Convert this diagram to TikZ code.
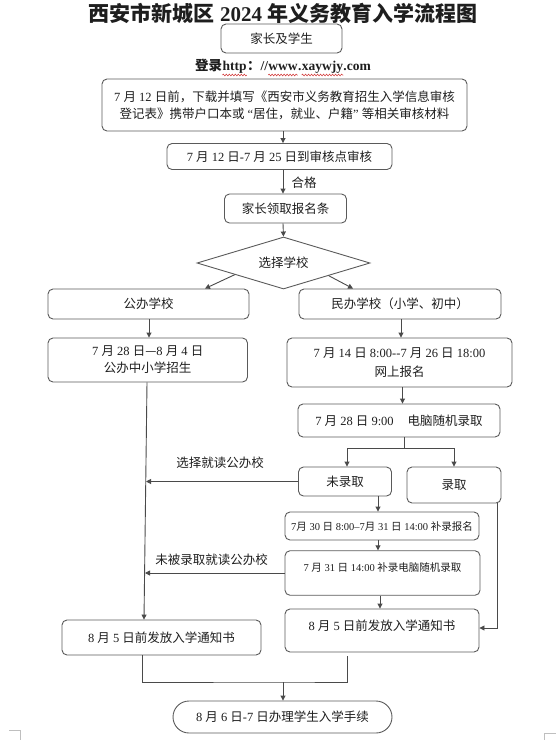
\documentclass[tikz,border=0pt]{standalone}
\usepackage{fontspec}
\setmainfont{Liberation Serif}
\newfontfamily\cjk{Noto Sans CJK SC}
\usetikzlibrary{shapes.geometric,arrows.meta,calc,decorations.pathmorphing}
\definecolor{boxc}{HTML}{5A5A5A}
\definecolor{linec}{HTML}{4A4A4A}
\definecolor{txt}{HTML}{1E1E1E}
\definecolor{wavec}{HTML}{D03030}
\newcommand\en[1]{{\rmfamily #1}}
\tikzset{
  box/.style={draw=boxc, line width=0.9pt, rounded corners=5pt, inner sep=0pt, align=center, text=txt, font=\cjk\fontsize{12.5}{17}\selectfont},
  smallbox/.style={box, font=\cjk\fontsize{10.5}{14}\selectfont},
  conn/.style={draw=linec, line width=0.9pt},
  arr/.style={conn, -{Triangle[length=5pt,width=5pt]}},
  lbl/.style={text=txt, inner sep=0pt, font=\cjk\fontsize{12.5}{15}\selectfont},
  loginpart/.style={text=txt, inner sep=0pt, anchor=base west, font=\cjk\bfseries\fontsize{13.5}{16}\selectfont},
  wavy/.style={draw=wavec, line width=0.5pt, decorate, decoration={snake, amplitude=0.9pt, segment length=3pt}},
  cornermark/.style={draw=black!25, line width=0.6pt},
}
\begin{document}
\begin{tikzpicture}[x=1pt,y=-1pt]
\useasboundingbox (0,0) rectangle (556,740);
% title and header
\node[text=txt, inner sep=0pt, font=\cjk\bfseries\fontsize{21}{24}\selectfont] (title) at (283,13) {西安市新城区\en{ 2024 }年义务教育入学流程图};
\node[box, minimum width=121pt, minimum height=29pt] (n1) at (281.5,38.5) {家长及学生};
% login line
\node[loginpart] (lg1) at (195,70) {登录\hspace{5pt}};
\node[loginpart] (lg2) at (lg1.base east) {\en{http}};
\node[loginpart] (lg3) at (lg2.base east) {：\en{//}};
\node[loginpart] (lg4) at (lg3.base east) {\en{www}};
\node[loginpart] (lg5) at (lg4.base east) {\en{.}};
\node[loginpart] (lg6) at (lg5.base east) {\en{xaywjy}};
\node[loginpart] (lg7) at (lg6.base east) {\en{.com}};
\foreach \w in {lg2,lg4,lg6}
  \draw[wavy] ($(\w.base west)+(0,5)$) -- ($(\w.base east)+(0,5)$);
\node[box, minimum width=365pt, minimum height=52pt] (n2) at (284.5,105) {\en{7 }月\en{ 12 }日前，下载并填写《西安市义务教育招生入学信息审核\\登记表》携带户口本或\en{ “}居住，就业、户籍\en{” }等相关审核材料};
\node[box, minimum width=225pt, minimum height=26pt] (n3) at (279.5,156.5) {\en{7 }月\en{ 12 }日\en{-7 }月\en{ 25 }日到审核点审核};
\node[lbl] (ok) at (304,183) {合格};
\node[box, minimum width=122pt, minimum height=29pt] (n4) at (285.5,208.5) {家长领取报名条};
\node[diamond, draw=boxc, line width=0.9pt, inner sep=0pt, aspect=3.3, minimum width=173pt, minimum height=52pt, text=txt, font=\cjk\fontsize{12.5}{15}\selectfont] (d) at (283.5,263) {选择学校};
% two branches
\node[box, minimum width=201pt, minimum height=30pt] (pub) at (148.5,304) {公办学校};
\node[box, minimum width=202pt, minimum height=30pt] (pri) at (400,304) {民办学校（小学、初中）};
\node[box, minimum width=199.5pt, minimum height=44pt] (pubd) at (147.75,360) {\en{7 }月\en{ 28 }日—\en{8 }月\en{ 4 }日\\公办中小学招生};
\node[box, minimum width=225pt, minimum height=49pt, font=\cjk\fontsize{12.5}{19.5}\selectfont] (prid) at (399.5,362.5) {\en{7 }月\en{ 14 }日\en{ 8:00-{}-7 }月\en{ 26 }日\en{ 18:00}\\网上报名};
\node[box, minimum width=202pt, minimum height=33pt] (rand) at (399,420.5) {\en{7 }月\en{ 28 }日\en{ 9:00}\hspace{14pt}电脑随机录取};
\node[box, minimum width=93pt, minimum height=29pt] (nadm) at (345,481.5) {未录取};
\node[box, minimum width=94pt, minimum height=36pt] (adm) at (454,485) {录取};
\node[smallbox, minimum width=194pt, minimum height=28pt] (supp) at (382,526) {\en{7}月\en{ 30 }日\en{ 8:00–7}月\en{ 31 }日\en{ 14:00 }补录报名};
\node[smallbox, minimum width=195pt, minimum height=44.5pt] (supr) at (382.5,573) {\en{7 }月\en{ 31 }日\en{ 14:00 }补录电脑随机录取\\[-2pt]\mbox{}};
\node[box, minimum width=194pt, minimum height=43pt] (notR) at (382,630.5) {\en{8 }月\en{ 5 }日前发放入学通知书\\[-6pt]\mbox{}};
\node[box, minimum width=199pt, minimum height=35pt] (notL) at (161.5,637.5) {\en{8 }月\en{ 5 }日前发放入学通知书};
\node[box, rounded corners=16pt, minimum width=219pt, minimum height=32pt] (final) at (282.5,717) {\en{8 }月\en{ 6 }日\en{-7 }日办理学生入学手续};
% side labels
\node[lbl] (l1) at (220,463) {选择就读公办校};
\node[lbl] (l2) at (211.5,560) {未被录取就读公办校};
% connectors
\draw[arr] (283,0 |- n2.south) -- (283,0 |- n3.north);
\draw[arr] (283,0 |- n3.south) -- (283,0 |- n4.north);
\draw[arr] (283,0 |- n4.south) -- (d.north);
\draw[arr] ($(d.west)!0.44!(d.south)$) -- (205,0 |- pub.north);
\draw[arr] ($(d.south)!0.52!(d.east)$) -- (353,0 |- pri.north);
\draw[arr] (149,0 |- pub.south) -- (149,0 |- pubd.north);
\draw[arr] (401,0 |- pri.south) -- (401,0 |- prid.north);
\draw[arr] (402.5,0 |- prid.south) -- (402.5,0 |- rand.north);
\draw[conn] (404,0 |- rand.south) -- (404,448) coordinate (split);
\draw[arr] (split) -| (347,0 |- nadm.north);
\draw[arr] (split) -| (454,0 |- adm.north);
\draw[arr] (147,0 |- pubd.south) -- (144,0 |- notL.north);
\draw[arr] (nadm.west) -- (146,0 |- nadm.west);
\draw[arr] (supr.west) -- (145,0 |- supr.west);
\draw[arr] (378,0 |- nadm.south) -- (378,0 |- supp.north);
\draw[arr] (378,0 |- supp.south) -- (378,0 |- supr.north);
\draw[arr] (380,0 |- supr.south) -- (380,0 |- notR.north);
\draw[arr] (497,0 |- adm.south) |- ($(notR.east)+(0,-2.5)$);
\path (notR.south) ++(0,4) coordinate (rbstart);
\draw[conn] (142,0 |- notL.south) |- (283,682) coordinate (join) -| (347,0 |- rbstart);
\draw[arr] (join) -- (283,0 |- final.north);
% page corner marks
\draw[cornermark] (9,730) -- (20,730) -- (20,740);
\draw[cornermark] (556,733) -- (544,733) -- (544,740);
\end{tikzpicture}
\end{document}
